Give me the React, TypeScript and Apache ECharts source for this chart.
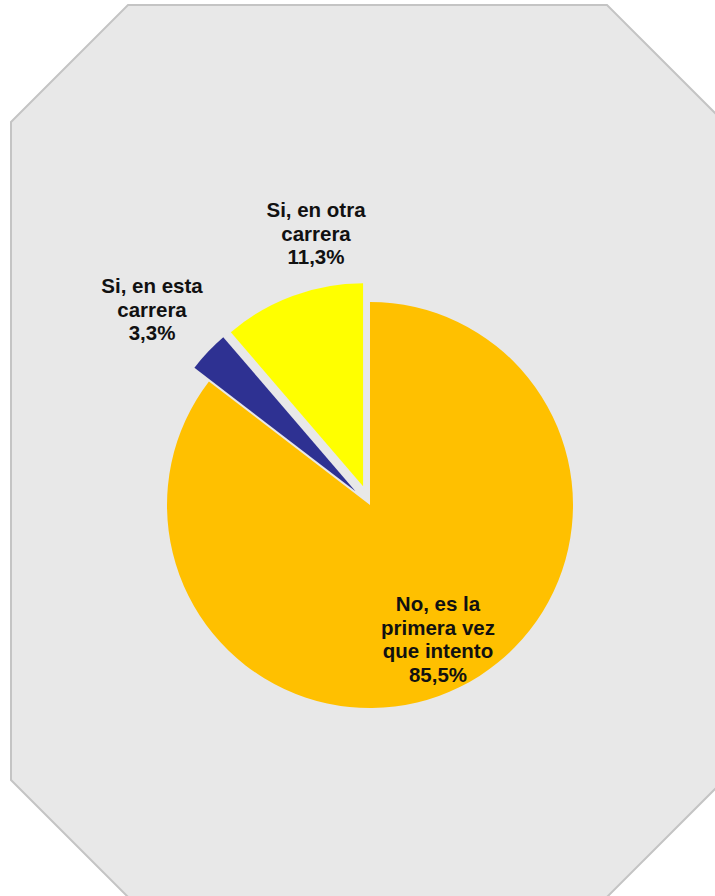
import React, { useEffect, useRef } from "react";
import * as echarts from "echarts";

const categories = [
  "No, es la\nprimera vez\nque intento",
  "Si, en esta\ncarrera",
  "Si, en otra\ncarrera",
];
const values = [85.5, 3.3, 11.3];
const exploded = [false, true, true];
const colors = ["#FFC000", "#2E3192", "#FFFF00"];

const labelPos: [number, number][] = [
  [438, 639],
  [152, 309],
  [316, 233],
];

export default function App() {
  const ref = useRef<HTMLDivElement>(null);
  useEffect(() => {
    document.body.style.margin = "0";
    if (!ref.current) return;
    const chart = echarts.init(ref.current, null, { renderer: "svg" });
    const common = {
      type: "pie",
      center: [370, 505],
      radius: 203,
      startAngle: 90,
      clockwise: true,
      avoidLabelOverlap: false,
      emphasis: { disabled: true },
      labelLine: { show: false },
    };
    chart.setOption({
      animation: false,
      graphic: [
        {
          type: "polygon",
          z: -10,
          silent: true,
          shape: {
            points: [
              [11, 122],
              [128, 5],
              [607, 5],
              [724, 122],
              [724, 780],
              [607, 897],
              [128, 897],
              [11, 780],
            ],
          },
          style: { fill: "#E8E8E8", stroke: "#C4C4C4", lineWidth: 2 },
        },
      ],
      series: [
        {
          ...common,
          selectedMode: "multiple",
          selectedOffset: 20,
          itemStyle: { borderWidth: 0 },
          label: { show: false },
          data: categories.map((name, i) => ({
            name,
            value: values[i],
            selected: exploded[i],
            itemStyle: { color: colors[i] },
          })),
        },
        {
          ...common,
          silent: true,
          z: 3,
          itemStyle: { color: "rgba(0,0,0,0)", borderWidth: 0 },
          label: {
            show: true,
            position: "inside",
            color: "#111111",
            fontFamily: "Liberation Sans, Arial, sans-serif",
            fontWeight: "bold",
            fontSize: 20.5,
            lineHeight: 23.5,
            align: "center",
            formatter: (p: any) =>
              `${p.name}\n${p.value.toFixed(1).replace(".", ",")}%`,
          },
          labelLayout: (p: any) => ({
            x: labelPos[p.dataIndex][0],
            y: labelPos[p.dataIndex][1],
            align: "center",
            verticalAlign: "middle",
          }),
          data: categories.map((name, i) => ({ name, value: values[i] })),
        },
      ],
    });
    return () => chart.dispose();
  }, []);
  return <div ref={ref} style={{ width: 715, height: 896 }} />;
}
